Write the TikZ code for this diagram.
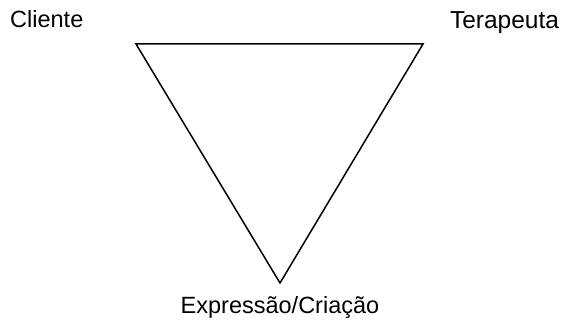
\documentclass[tikz,border=0pt]{standalone}
\usepackage{fontspec}
\setmainfont{Liberation Sans}
\begin{document}
\begin{tikzpicture}[x=1pt,y=-1pt,
  lbl/.style={inner sep=0pt,font=\fontsize{23.5}{28}\selectfont},
  tri/.style={draw=black,line width=1.5pt,line join=miter}]
\useasboundingbox (0,0) rectangle (568,323);
\coordinate (A) at (136,44);
\coordinate (B) at (423,44);
\coordinate (C) at (280,283);
\draw[tri] (A) -- (B) -- (C) -- cycle;
\node[lbl,anchor=base west] (cli) at (10,28) {Cliente};
\node[lbl,anchor=base,font=\fontsize{24.5}{28}\selectfont] (ter) at (504.5,28.5) {Terapeuta};
\node[lbl,anchor=base] (exp) at (280,313) {Expressão/Criação};
\end{tikzpicture}
\end{document}
